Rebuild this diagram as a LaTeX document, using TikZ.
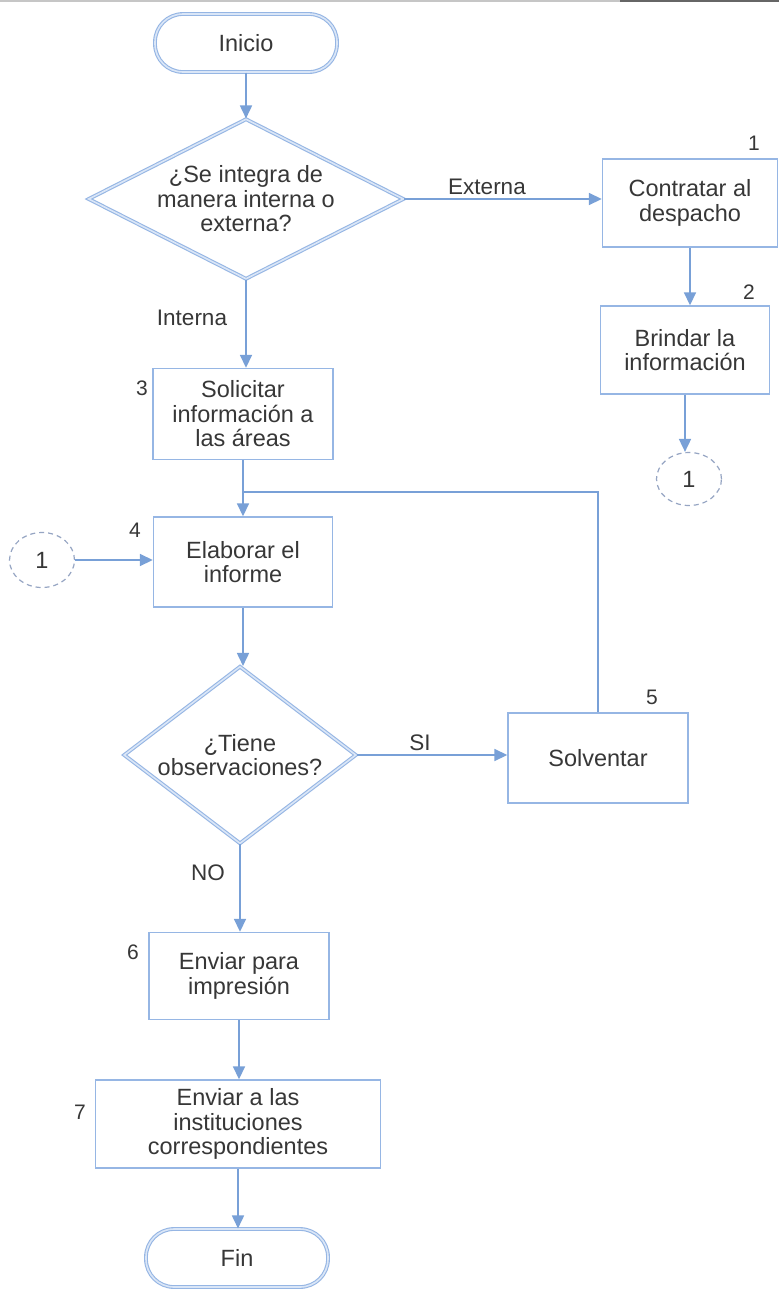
\documentclass[tikz,border=0pt]{standalone}
\usepackage{fontspec}
\setmainfont{Liberation Sans}
\usetikzlibrary{shapes.geometric,arrows.meta}
\definecolor{lineblue}{RGB}{120,160,215}
\definecolor{boxblue}{RGB}{150,182,228}
\definecolor{dblfill}{RGB}{218,230,247}
\definecolor{txtgray}{RGB}{55,55,55}
\definecolor{dashgray}{RGB}{150,165,195}
\tikzset{
  base/.style={font=\fontsize{23.5}{24.5}\selectfont, text=txtgray, align=center},
  procbox/.style={base, draw=boxblue, line width=1.4pt, rectangle, inner sep=0pt},
  termbox/.style={base, draw=boxblue, double=dblfill, double distance=1.6pt, line width=1.1pt, rectangle, rounded corners=28pt, inner sep=0pt},
  decbox/.style={draw=boxblue, double=dblfill, double distance=1.6pt, line width=1.1pt, diamond, inner sep=0pt},
  conn/.style={base, draw=dashgray, dash pattern=on 5pt off 4pt, line width=1.2pt, ellipse, inner sep=0pt},
  stepnum/.style={font=\fontsize{21}{22}\selectfont, text=txtgray},
  flowlabel/.style={font=\fontsize{22.5}{24}\selectfont, text=txtgray},
  arr/.style={draw=lineblue, line width=1.7pt, -{Triangle[length=13pt,width=12pt]}},
  plain/.style={draw=lineblue, line width=1.7pt},
}
\begin{document}
\begin{tikzpicture}[x=1pt,y=-1pt]
\fill[white] (0,0) rectangle (779,1291);
\useasboundingbox (0,0) rectangle (779,1291);
% scan edge at top
\draw[gray!45, line width=1.5pt] (0,1) -- (620,1);
\draw[gray!80!black, line width=2pt] (620,1) -- (779,1);

% terminals
\node[termbox, minimum width=182pt, minimum height=58pt] (inicio) at (246,43) {Inicio};
\node[termbox, minimum width=182pt, minimum height=58pt] (fin) at (237,1258) {Fin};

% decisions
\node[decbox, minimum width=315pt, minimum height=160pt] (d1) at (246,199) {};
\node[base] (d1t) at (246,199) {¿Se integra de\\manera interna o\\externa?};
\node[decbox, minimum width=232pt, minimum height=177pt] (d2) at (240,755) {};
\node[base] (d2t) at (240,755) {¿Tiene\\observaciones?};

% process boxes
\node[procbox, minimum width=175pt, minimum height=88pt] (b1) at (690,203) {Contratar al\\despacho};
\node[procbox, minimum width=169pt, minimum height=88pt] (b2) at (685,350) {Brindar la\\información};
\node[procbox, minimum width=180pt, minimum height=91pt] (b3) at (243,414) {Solicitar\\información a\\las áreas};
\node[procbox, minimum width=179pt, minimum height=90pt] (b4) at (243,562) {Elaborar el\\informe};
\node[procbox, minimum width=180pt, minimum height=90pt] (b5) at (598,758) {Solventar};
\node[procbox, minimum width=180pt, minimum height=87pt] (b6) at (239,976) {Enviar para\\impresión};
\node[procbox, minimum width=285pt, minimum height=88pt] (b7) at (238,1124) {Enviar a las\\instituciones\\correspondientes};

% off-page connectors
\node[conn, minimum width=65pt, minimum height=53pt] (c1) at (689,479) {1};
\node[conn, minimum width=65pt, minimum height=55pt] (c2) at (42,560) {1};

% step numbers
\node[stepnum] (n1) at (754,143) {1};
\node[stepnum] (n2) at (749,292) {2};
\node[stepnum] (n3) at (142,388) {3};
\node[stepnum] (n4) at (135,530) {4};
\node[stepnum] (n5) at (652,697) {5};
\node[stepnum] (n6) at (133,952) {6};
\node[stepnum] (n7) at (80,1112) {7};

% flow labels
\node[flowlabel] (lext) at (487,187) {Externa};
\node[flowlabel] (lint) at (192,318) {Interna};
\node[flowlabel] (lsi) at (420,743) {SI};
\node[flowlabel] (lno) at (208,873) {NO};

% connectors
\draw[arr] (inicio.south) -- (inicio.south |- d1.north);
\draw[arr] (d1.east) -- (d1.east -| b1.west);
\draw[arr] (b1.south) -- (b1.south |- b2.north);
\draw[arr] (b2.south) -- (b2.south |- c1.north);
\draw[arr] (d1.south) -- (d1.south |- b3.north);
\path (b3.south) ++(0,32) coordinate (j);
\draw[arr] (b3.south) -- (b4.north);
\draw[plain] (b5.north) |- (j);
\draw[arr] (c2.east) -- (c2.east -| b4.west);
\draw[arr] (b4.south) -- (b4.south |- d2.north);
\draw[arr] (d2.east) -- (d2.east -| b5.west);
\draw[arr] (d2.south) -- (d2.south |- b6.north);
\draw[arr] (b6.south) -- (b6.south |- b7.north);
\draw[arr] (b7.south) -- (b7.south |- fin.north);
\end{tikzpicture}
\end{document}
